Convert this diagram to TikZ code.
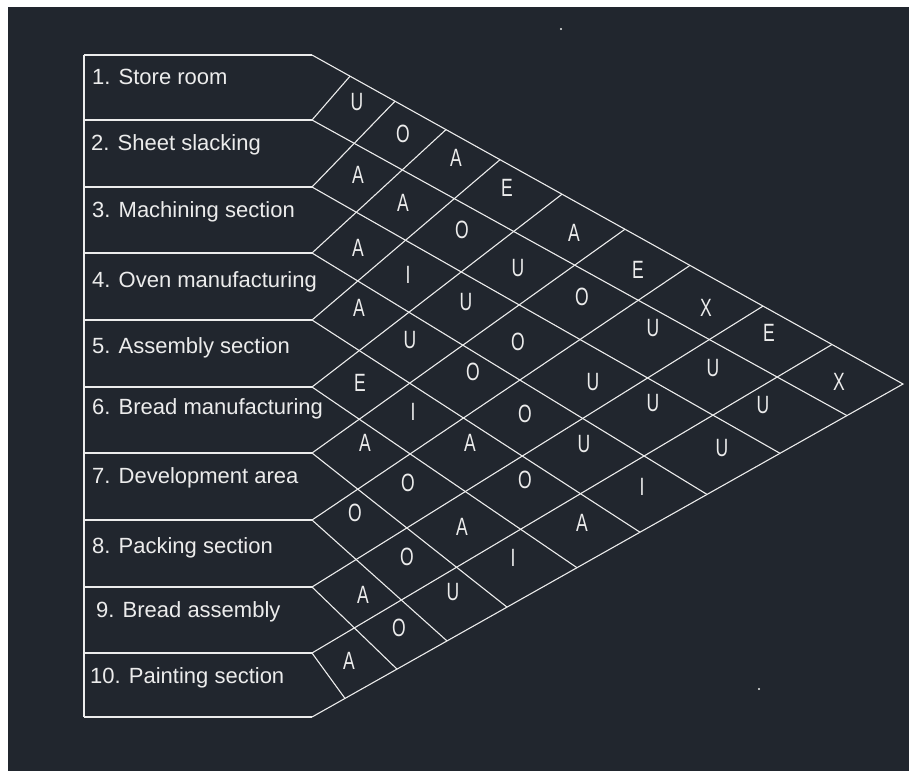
\documentclass[tikz,border=0pt]{standalone}
\usepackage{fontspec}
\setmainfont{Liberation Sans}
\newfontfamily\cellfont[FakeStretch=0.7]{Liberation Sans}
\definecolor{bg}{RGB}{33,38,46}
\definecolor{ink}{RGB}{236,236,236}
\begin{document}
\begin{tikzpicture}[x=1pt,y=-1pt,
  grid/.style={draw=ink, line width=1.1pt, line join=miter},
  lbl/.style={anchor=base west, text=ink, font=\fontsize{22}{26}\selectfont, inner sep=0pt},
  rel/.style={text=ink, font=\cellfont\fontsize{25}{28}\selectfont, inner sep=0pt, anchor=center}]
\fill[white] (0,0) rectangle (909,771);
\fill[bg] (8,7) rectangle (909,771);
\useasboundingbox (0,0) rectangle (909,771);

% row boundaries
\foreach \k/\y in {0/55,1/120,2/187,3/253,4/320,5/387,6/453,7/520,8/587,9/653,10/717}{
  \coordinate (R\k) at (84,\y);
  \coordinate (L\k) at (312,\y);
}
\coordinate (apex) at (903,384);
% vertices on the top edge
\coordinate (T1) at (350,76.2);
\coordinate (T2) at (395,101.2);
\coordinate (T3) at (446,129.6);
\coordinate (T4) at (500,159.7);
\coordinate (T5) at (562,194.2);
\coordinate (T6) at (625,229.2);
\coordinate (T7) at (690,265.4);
\coordinate (T8) at (763,306.1);
\coordinate (T9) at (832,344.5);
% vertices on the bottom edge
\coordinate (B1) at (847,415.6);
\coordinate (B2) at (780,453.3);
\coordinate (B3) at (707,494.4);
\coordinate (B4) at (640,532.2);
\coordinate (B5) at (577,567.7);
\coordinate (B6) at (507,607.1);
\coordinate (B7) at (447,640.9);
\coordinate (B8) at (397,669.1);
\coordinate (B9) at (345,698.4);

% frame of the rows
\draw[grid] (R0) -- (R10);
\foreach \k in {0,...,10}{ \draw[grid] (R\k) -- (L\k); }
\draw[grid] (L0) -- (apex) -- (L10);
\foreach \k in {1,...,9}{ \draw[grid] (T\k) -- (L\k) -- (B\k); }

% department labels
\node[lbl] (n1)  at (92,84)  {1. Store room};
\node[lbl] (n2)  at (91,150) {2. Sheet slacking};
\node[lbl] (n3)  at (92,217) {3. Machining section};
\node[lbl] (n4)  at (92,287) {4. Oven manufacturing};
\node[lbl] (n5)  at (92,353) {5. Assembly section};
\node[lbl] (n6)  at (92,414) {6. Bread manufacturing};
\node[lbl] (n7)  at (92,483) {7. Development area};
\node[lbl] (n8)  at (92,553) {8. Packing section};
\node[lbl] (n9)  at (96,617) {9. Bread assembly};
\node[lbl] (n10) at (90,683) {10. Painting section};

% relationship codes
\node[rel] (c1-2)  at (357,102) {U};
\node[rel] (c1-3)  at (403,134) {O};
\node[rel] (c1-4)  at (456,158) {A};
\node[rel] (c1-5)  at (507,188) {E};
\node[rel] (c1-6)  at (574,233) {A};
\node[rel] (c1-7)  at (638,270) {E};
\node[rel] (c1-8)  at (706,308) {X};
\node[rel] (c1-9)  at (769,333) {E};
\node[rel] (c1-10) at (839,382) {X};
\node[rel] (c2-3)  at (358,175) {A};
\node[rel] (c2-4)  at (403,203) {A};
\node[rel] (c2-5)  at (462,230) {O};
\node[rel] (c2-6)  at (518,268) {U};
\node[rel] (c2-7)  at (582,297) {O};
\node[rel] (c2-8)  at (653,328) {U};
\node[rel] (c2-9)  at (713,368) {U};
\node[rel] (c2-10) at (763,405) {U};
\node[rel] (c3-4)  at (358,248) {A};
\node[rel] (c3-5)  at (408,275) {I};
\node[rel] (c3-6)  at (466,302) {U};
\node[rel] (c3-7)  at (518,342) {O};
\node[rel] (c3-8)  at (593,382) {U};
\node[rel] (c3-9)  at (653,403) {U};
\node[rel] (c3-10) at (722,448) {U};
\node[rel] (c4-5)  at (359,308) {A};
\node[rel] (c4-6)  at (410,340) {U};
\node[rel] (c4-7)  at (473,372) {O};
\node[rel] (c4-8)  at (525,414) {O};
\node[rel] (c4-9)  at (584,444) {U};
\node[rel] (c4-10) at (642,487) {I};
\node[rel] (c5-6)  at (360,383) {E};
\node[rel] (c5-7)  at (413,412) {I};
\node[rel] (c5-8)  at (470,443) {A};
\node[rel] (c5-9)  at (525,480) {O};
\node[rel] (c5-10) at (582,523) {A};
\node[rel] (c6-7)  at (365,443) {A};
\node[rel] (c6-8)  at (408,483) {O};
\node[rel] (c6-9)  at (462,527) {A};
\node[rel] (c6-10) at (513,558) {I};
\node[rel] (c7-8)  at (355,513) {O};
\node[rel] (c7-9)  at (407,557) {O};
\node[rel] (c7-10) at (453,592) {U};
\node[rel] (c8-9)  at (363,595) {A};
\node[rel] (c8-10) at (399,628) {O};
\node[rel] (c9-10) at (349,661) {A};

% stray points
\fill[ink] (561,29) circle (1.2pt);
\fill[ink] (759,689) circle (1.2pt);
\end{tikzpicture}
\end{document}
